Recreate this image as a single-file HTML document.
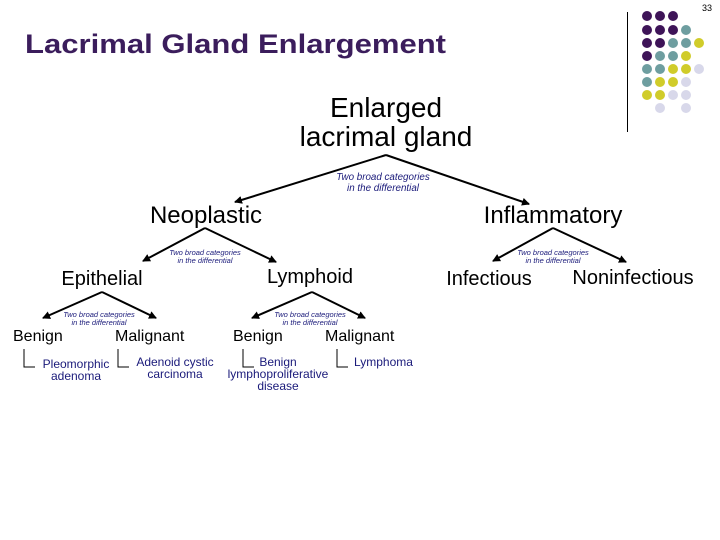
<!DOCTYPE html>
<html><head><style>
body{margin:0;width:720px;height:540px;background:#fff;position:relative;overflow:hidden;font-family:"Liberation Sans",sans-serif}
.t{position:absolute;white-space:nowrap;line-height:1}
.c{transform:translateX(-50%);text-align:center}
.s{color:#1a1a7a;font-style:italic;font-size:9.8px;line-height:11px}
.ss{color:#1a1a7a;font-style:italic;font-size:7.5px;line-height:8px}
.b{color:#1a1a7a;font-size:12px;line-height:12px}
</style></head><body>
<div class="t" style="right:8px;top:4px;font-size:9px">33</div>
<div class="t" style="left:25px;top:31px;font-size:27px;font-weight:bold;color:#3b1d5c;transform:scaleX(1.15);transform-origin:left">Lacrimal Gland Enlargement</div>
<div class="t c" style="left:386px;top:93px;font-size:28px;line-height:29px">Enlarged<br>lacrimal gland</div>
<div class="t c s" style="left:383px;top:172px">Two broad categories<br>in the differential</div>
<div class="t c" style="left:206px;top:204px;font-size:24px">Neoplastic</div>
<div class="t c" style="left:553px;top:204px;font-size:24px">Inflammatory</div>
<div class="t c ss" style="left:205px;top:249px">Two broad categories<br>in the differential</div>
<div class="t c ss" style="left:553px;top:249px">Two broad categories<br>in the differential</div>
<div class="t c" style="left:102px;top:269px;font-size:20px">Epithelial</div>
<div class="t c" style="left:310px;top:267px;font-size:20px">Lymphoid</div>
<div class="t c" style="left:489px;top:269px;font-size:20px">Infectious</div>
<div class="t c" style="left:633px;top:268px;font-size:20px">Noninfectious</div>
<div class="t c ss" style="left:99px;top:311px">Two broad categories<br>in the differential</div>
<div class="t c ss" style="left:310px;top:311px">Two broad categories<br>in the differential</div>
<div class="t" style="left:13px;top:329px;font-size:16px">Benign</div>
<div class="t" style="left:115px;top:329px;font-size:16px">Malignant</div>
<div class="t" style="left:233px;top:329px;font-size:16px">Benign</div>
<div class="t" style="left:325px;top:329px;font-size:16px">Malignant</div>
<div class="t c b" style="left:76px;top:358px">Pleomorphic<br>adenoma</div>
<div class="t c b" style="left:175px;top:356px">Adenoid cystic<br>carcinoma</div>
<div class="t c b" style="left:278px;top:356px">Benign<br>lymphoproliferative<br>disease</div>
<div class="t b" style="left:354px;top:356px">Lymphoma</div>
<svg width="720" height="540" style="position:absolute;left:0;top:0">
<defs><marker id="a" markerWidth="8" markerHeight="8" refX="7" refY="4" orient="auto" markerUnits="userSpaceOnUse"><path d="M0,0L8,4L0,8z"/></marker></defs>
<g stroke="#000" stroke-width="2" fill="none" marker-end="url(#a)">
<path d="M386,155L235,202"/><path d="M386,155L529,204"/>
<path d="M205,228L143,261"/><path d="M205,228L276,262"/>
<path d="M553,228L493,261"/><path d="M553,228L626,262"/>
<path d="M102,292L43,318"/><path d="M102,292L156,318"/>
<path d="M312,292L252,318"/><path d="M312,292L365,318"/>
</g>
<g stroke="#000" stroke-width="1" fill="none">
<path d="M24,349V367H35"/><path d="M118,349V367H129"/><path d="M243,349V367H254"/><path d="M337,349V367H348"/>
<path d="M627.5,12V132"/>
</g>
<g>
<circle cx="647" cy="16" r="5" fill="#3e1458"/><circle cx="660" cy="16" r="5" fill="#3e1458"/><circle cx="673" cy="16" r="5" fill="#3e1458"/>
<circle cx="647" cy="30" r="5" fill="#3e1458"/><circle cx="660" cy="30" r="5" fill="#3e1458"/><circle cx="673" cy="30" r="5" fill="#3e1458"/><circle cx="686" cy="30" r="5" fill="#6e9ea0"/>
<circle cx="647" cy="43" r="5" fill="#3e1458"/><circle cx="660" cy="43" r="5" fill="#3e1458"/><circle cx="673" cy="43" r="5" fill="#6e9ea0"/><circle cx="686" cy="43" r="5" fill="#6e9ea0"/><circle cx="699" cy="43" r="5" fill="#d0cc2a"/>
<circle cx="647" cy="56" r="5" fill="#3e1458"/><circle cx="660" cy="56" r="5" fill="#6e9ea0"/><circle cx="673" cy="56" r="5" fill="#6e9ea0"/><circle cx="686" cy="56" r="5" fill="#d0cc2a"/>
<circle cx="647" cy="69" r="5" fill="#6e9ea0"/><circle cx="660" cy="69" r="5" fill="#6e9ea0"/><circle cx="673" cy="69" r="5" fill="#d0cc2a"/><circle cx="686" cy="69" r="5" fill="#d0cc2a"/><circle cx="699" cy="69" r="5" fill="#d8d8ea"/>
<circle cx="647" cy="82" r="5" fill="#6e9ea0"/><circle cx="660" cy="82" r="5" fill="#d0cc2a"/><circle cx="673" cy="82" r="5" fill="#d0cc2a"/><circle cx="686" cy="82" r="5" fill="#d8d8ea"/>
<circle cx="647" cy="95" r="5" fill="#d0cc2a"/><circle cx="660" cy="95" r="5" fill="#d0cc2a"/><circle cx="673" cy="95" r="5" fill="#d8d8ea"/><circle cx="686" cy="95" r="5" fill="#d8d8ea"/>
<circle cx="660" cy="108" r="5" fill="#d8d8ea"/><circle cx="686" cy="108" r="5" fill="#d8d8ea"/>
</g>
</svg>
</body></html>
